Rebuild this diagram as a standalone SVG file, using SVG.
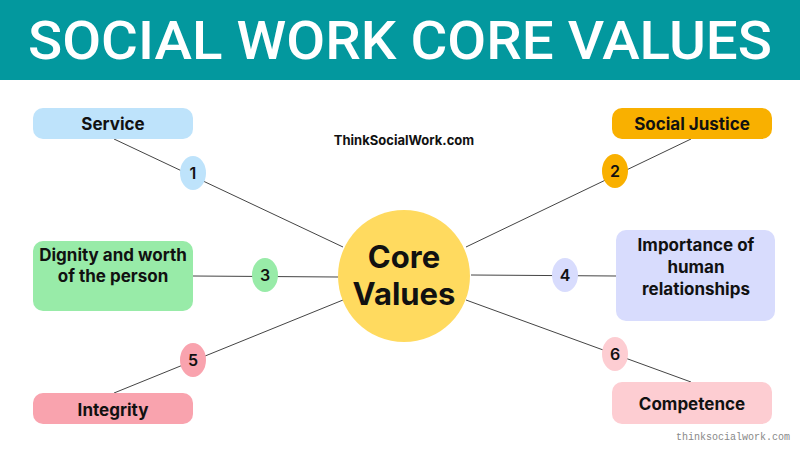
<svg xmlns="http://www.w3.org/2000/svg" width="800" height="450" viewBox="0 0 800 450">
<style>
.lbl{font-family:Inter,"Noto Sans","Liberation Sans",sans-serif;font-weight:700;font-size:17px;fill:#111;text-anchor:middle}
.core{font-family:Inter,"Noto Sans","Liberation Sans",sans-serif;font-weight:700;font-size:31px;fill:#111;text-anchor:middle}
.num{font-family:Inter,"Noto Sans","Liberation Sans",sans-serif;font-weight:600;font-size:16px;fill:#111;text-anchor:middle}
.conn line{stroke:#444;stroke-width:1}
</style>
<rect x="0" y="0" width="800" height="80" fill="#03989E"/>
<text x="400" y="59" font-family="Roboto,'Liberation Sans',Arial,sans-serif" font-weight="500" font-size="53" fill="#fff" text-anchor="middle" textLength="744" lengthAdjust="spacingAndGlyphs">SOCIAL WORK CORE VALUES</text>
<text x="404" y="145" font-family="Inter,'Liberation Sans',sans-serif" font-weight="700" font-size="13" fill="#111" text-anchor="middle">ThinkSocialWork.com</text>
<g class="conn" id="connectors">
<line x1="114" y1="139" x2="343" y2="247"/>
<line x1="691" y1="139" x2="466" y2="247"/>
<line x1="193" y1="276" x2="338" y2="277"/>
<line x1="471" y1="275" x2="616" y2="276"/>
<line x1="114" y1="393" x2="343" y2="300"/>
<line x1="466" y1="300" x2="691" y2="382"/>
</g>
<g id="core">
<circle cx="404" cy="276" r="66" fill="#FFDA5F"/>
<text class="core" x="404" y="268">Core</text>
<text class="core" x="404" y="305">Values</text>
</g>
<g id="service">
<rect x="33" y="108" width="160" height="31" rx="10" fill="#BEE3FB"/>
<text class="lbl" x="113" y="130">Service</text>
</g>
<g id="b1"><ellipse cx="193" cy="173" rx="13" ry="17" fill="#BEE3FB"/><text class="num" x="193" y="179">1</text></g>
<g id="justice">
<rect x="612" y="108" width="160" height="31" rx="10" fill="#F9B000"/>
<text class="lbl" x="692" y="130">Social Justice</text>
</g>
<g id="b2"><ellipse cx="615" cy="171" rx="13" ry="17" fill="#F9B000"/><text class="num" x="615" y="177">2</text></g>
<g id="dignity">
<rect x="33" y="241" width="160" height="70" rx="10" fill="#98EBA8"/>
<text class="lbl" x="113" y="261">Dignity and worth</text>
<text class="lbl" x="113" y="282">of the person</text>
</g>
<g id="b3"><ellipse cx="265" cy="275" rx="13" ry="17" fill="#98EBA8"/><text class="num" x="265" y="281">3</text></g>
<g id="importance">
<rect x="616" y="230" width="159" height="91" rx="10" fill="#D8DCFD"/>
<text class="lbl" x="696" y="251">Importance of</text>
<text class="lbl" x="696" y="273">human</text>
<text class="lbl" x="696" y="295">relationships</text>
</g>
<g id="b4"><ellipse cx="565" cy="275" rx="13" ry="17" fill="#D8DCFD"/><text class="num" x="565" y="281">4</text></g>
<g id="b5"><ellipse cx="193" cy="360" rx="13" ry="17" fill="#F9A3AE"/><text class="num" x="193" y="366">5</text></g>
<g id="integrity">
<rect x="33" y="393" width="160" height="31" rx="10" fill="#F9A3AE"/>
<text class="lbl" x="113" y="416">Integrity</text>
</g>
<g id="b6"><ellipse cx="615" cy="354" rx="13" ry="17" fill="#FDCDD2"/><text class="num" x="615" y="360">6</text></g>
<g id="competence">
<rect x="612" y="382" width="160" height="42" rx="10" fill="#FDCDD2"/>
<text class="lbl" x="692" y="410">Competence</text>
</g>
<text x="790" y="440" font-family="Liberation Mono,monospace" font-size="10" fill="#888" text-anchor="end">thinksocialwork.com</text>
</svg>
